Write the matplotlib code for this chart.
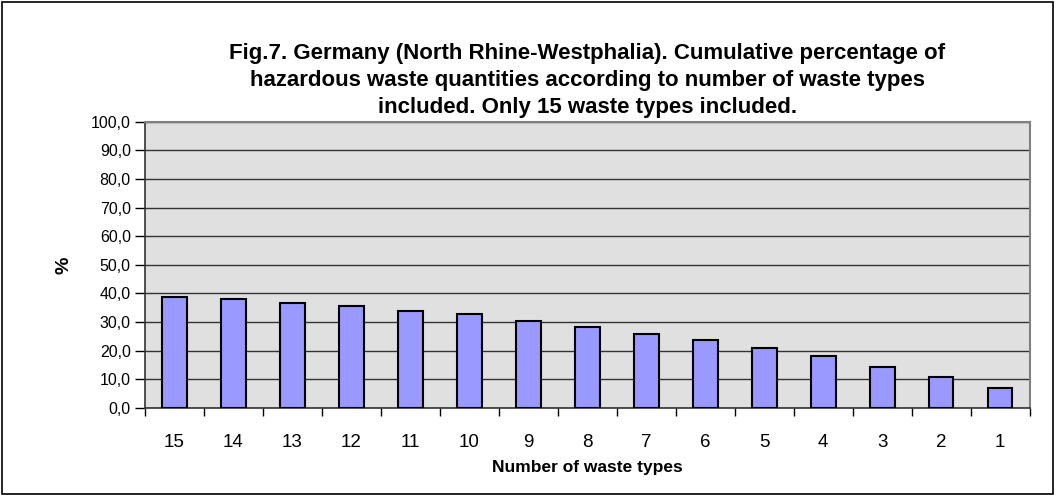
import numpy as np
import matplotlib.pyplot as plt
from matplotlib.patches import Rectangle
from matplotlib.ticker import FuncFormatter

# waste types, from most to fewest included
waste_types = ['15', '14', '13', '12', '11', '10', '9', '8', '7', '6', '5', '4', '3', '2', '1']
cum_pct = [38.9, 38.2, 36.8, 35.5, 34.0, 32.7, 30.5, 28.4, 25.7, 23.6, 20.8, 18.0, 14.4, 10.9, 6.9]

title = ("Fig.7. Germany (North Rhine-Westphalia). Cumulative percentage of\n"
         "hazardous waste quantities according to number of waste types\n"
         "included. Only 15 waste types included.")

plt.rcParams['font.family'] = ['Liberation Sans', 'DejaVu Sans']

fig = plt.figure(figsize=(10.56, 4.95), dpi=100)
ax = fig.add_axes([0.137, 0.176, 0.838, 0.578])
ax.set_facecolor('#e0e0e0')

x = np.arange(len(waste_types))
ax.bar(x, cum_pct, width=0.42, color='#9999ff', edgecolor='black', linewidth=1.5, zorder=3)

ax.set_xlim(-0.5, len(waste_types) - 0.5)
ax.set_ylim(0, 100)
ax.set_yticks(np.arange(0, 101, 10))
ax.yaxis.set_major_formatter(FuncFormatter(lambda v, p: ('%.1f' % v).replace('.', ',')))
ax.grid(axis='y', color='#333333', linewidth=1.0, zorder=1)

ax.set_xticks(x)
ax.set_xticklabels(waste_types, fontsize=13.5)
ax.set_xticks(np.arange(-0.5, len(waste_types), 1), minor=True)
ax.tick_params(axis='x', which='major', length=0, pad=19)
ax.tick_params(axis='x', which='minor', length=6, width=1, color='black', direction='out')
ax.tick_params(axis='y', labelsize=11.5, length=7, width=1, direction='out', pad=3)

for side in ['top', 'right']:
    ax.spines[side].set_color('#808080')
    ax.spines[side].set_linewidth(1.5)
for side in ['left', 'bottom']:
    ax.spines[side].set_color('#333333')
    ax.spines[side].set_linewidth(1.2)

ax.set_xlabel('Number of waste types', fontsize=12.5, fontweight='bold', labelpad=6)
ax.set_ylabel('%', fontsize=14, fontweight='bold', labelpad=13)

fig.text(0.556, 0.913, title, ha='center', va='top', fontsize=16,
         fontweight='bold', linespacing=1.38)

# chart border
fig.patches.append(Rectangle((0.002, 0.003), 0.995, 0.992, transform=fig.transFigure,
                             fill=False, edgecolor='black', linewidth=1.2))

fig.savefig('out.png', dpi=100)
